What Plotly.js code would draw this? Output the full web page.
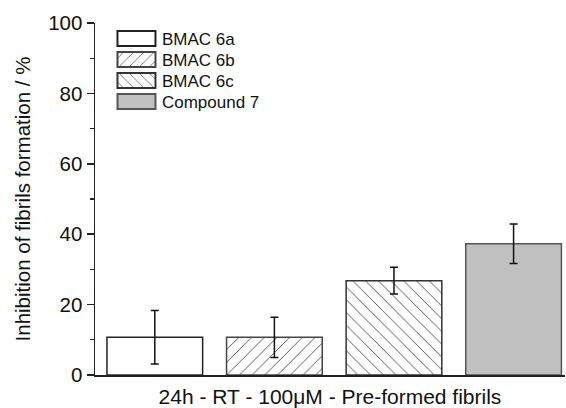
<!DOCTYPE html>
<html>
<head>
<meta charset="utf-8">
<script src="https://cdn.plot.ly/plotly-3.0.1.min.js"></script>
<style>html,body{margin:0;padding:0;background:#fff;}#chart{width:566px;height:408px;}</style>
</head>
<body>
<div id="chart"></div>
<script>
const categories = ['BMAC 6a', 'BMAC 6b', 'BMAC 6c', 'Compound 7'];
const values = [10.7, 10.7, 26.8, 37.3];
const errors = [7.6, 5.7, 3.8, 5.6];
const patterns = ['', '/', '\\', ''];
const fills = ['#ffffff', '#ffffff', '#ffffff', '#c0c0c0'];
const outlines = ['#222222', '#444444', '#333333', '#555555'];
const yTicks = [0, 20, 40, 60, 80, 100];

const traces = categories.map((c, i) => ({
  type: 'bar',
  name: c,
  x: [c],
  y: [values[i]],
  width: 0.8,
  marker: {
    color: fills[i],
    line: {color: outlines[i], width: 1.5},
    pattern: {shape: patterns[i], fgcolor: '#333333', size: 9, solidity: 0.09}
  },
  error_y: {type: 'data', array: [errors[i]], visible: true, color: '#111111', thickness: 1.5, width: 4}
}));

const layout = {
  width: 566, height: 408,
  margin: {l: 95, r: 1, t: 23, b: 33},
  paper_bgcolor: '#ffffff', plot_bgcolor: '#ffffff',
  font: {family: 'Liberation Sans, Arial, sans-serif', color: '#111111', size: 16},
  barmode: 'overlay',
  showlegend: true,
  legend: {x: 0.034, y: 1.0, xanchor: 'left', yanchor: 'top', bgcolor: 'rgba(0,0,0,0)',
           font: {size: 17, color: '#111111'}, tracegroupgap: 0, itemwidth: 41, itemsizing: 'constant'},
  xaxis: {
    type: 'category', categoryarray: categories, range: [-0.5, 3.43],
    showticklabels: false, ticks: '', showline: true, linecolor: '#222222', linewidth: 1.5,
    showgrid: false, zeroline: false, fixedrange: true,
    title: {text: '24h - RT - 100\u03bcM - Pre-formed fibrils', font: {size: 21}, standoff: 16}
  },
  yaxis: {
    range: [0, 100], tickvals: yTicks, ticks: 'outside', ticklen: 7, tickwidth: 1.5, tickcolor: '#222222',
    showline: true, linecolor: '#222222', linewidth: 1.5, showgrid: false, zeroline: false,
    tickfont: {size: 20.5}, ticklabelstandoff: 0,
    minor: {dtick: 10, ticks: 'outside', ticklen: 4, tickwidth: 1.2, tickcolor: '#222222', showgrid: false},
    title: {text: 'Inhibition of fibrils formation / %', font: {size: 20.5}, standoff: 12}
  }
};

Plotly.newPlot('chart', traces, layout, {staticPlot: true}).then(() => {
  document.querySelectorAll('.legend .legendpoints path').forEach(p => {
    p.setAttribute('d', 'M19,7.5H-19V-7.5H19Z');
  });
  const items = Array.from(document.querySelectorAll('.legend .traces'));
  if (items.length) {
    const parse = el => {
      const m = /translate\(\s*([-\d.]+)[ ,]+([-\d.]+)/.exec(el.getAttribute('transform') || '');
      return m ? [parseFloat(m[1]), parseFloat(m[2])] : [0, 0];
    };
    const [x0, y0] = parse(items[0]);
    items.forEach((el, i) => {
      const [xi] = parse(el);
      el.setAttribute('transform', 'translate(' + xi + ',' + (y0 - 2 + i * 21) + ')');
    });
  }
});
</script>
</body>
</html>
